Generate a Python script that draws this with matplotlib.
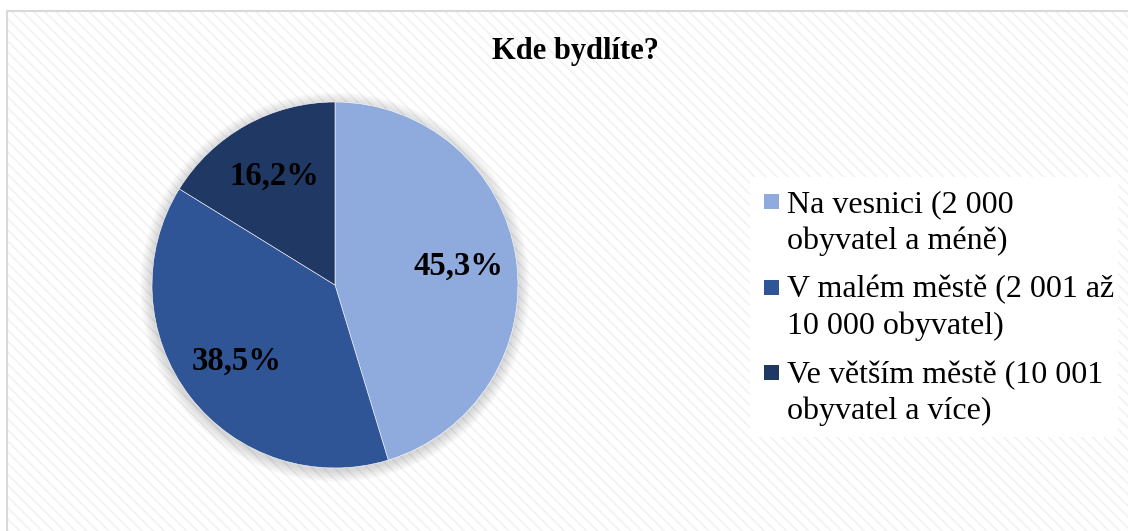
import matplotlib
matplotlib.use("Agg")
import matplotlib.pyplot as plt
from matplotlib.patches import Rectangle, Circle

# data
categories = ["Na vesnici (2 000\nobyvatel a méně)",
              "V malém městě (2 001 až\n10 000 obyvatel)",
              "Ve větším městě (10 001\nobyvatel a více)"]
shares = [45.3, 38.5, 16.2]
colors = ["#8FAADC", "#2F5597", "#203864"]
title = "Kde bydlíte?"

plt.rcParams['font.family'] = ['Liberation Serif', 'DejaVu Serif']

W, H = 1128, 531
fig = plt.figure(figsize=(W / 100, H / 100), dpi=100)
fig.patch.set_facecolor("white")

def fx(px):
    return px / W

def fy(py):
    return 1 - py / H

# chart area with faint diagonal stripes and grey border
bg = Rectangle((fx(7), -0.02), 1.1, fy(11) + 0.02, transform=fig.transFigure,
               facecolor="white", edgecolor="#f0f0f0", hatch="\\\\\\", linewidth=0, zorder=-2)
fig.patches.append(bg)
border = Rectangle((fx(7), -0.02), 1.1, fy(11) + 0.02, transform=fig.transFigure,
                   facecolor="none", edgecolor="#d9d9d9", linewidth=1.5, zorder=-1)
fig.patches.append(border)

fig.text(fx(575), fy(52), title, ha="center", va="center",
         fontsize=22, fontweight="bold")

cx, cy, r = 335, 285, 183
ax = fig.add_axes([fx(cx - r), fy(cy + r), 2 * r / W, 2 * r / H])
ax.set_axis_off()

# soft shadow behind the pie
for i in range(8):
    ax.add_patch(Circle((0.0, -0.012), 1.0 + 0.008 * (i + 1), facecolor="#000000",
                        alpha=0.02, edgecolor="none", zorder=0, clip_on=False))

wedges, texts, autotexts = ax.pie(
    shares, colors=colors, startangle=90, counterclock=False,
    autopct=lambda p: f"{p:.1f}%".replace(".", ","), pctdistance=0.68,
    wedgeprops=dict(edgecolor="white", linewidth=0.4),
    textprops=dict(fontsize=23.5, fontweight="bold", color="black"))
for w in wedges:
    w.set_zorder(2)
ax.set_xlim(-1, 1)
ax.set_ylim(-1, 1)

# legend drawn by hand so the marker sits at the first text line, as in Excel
fig.patches.append(Rectangle((fx(750), fy(437)), fx(1118 - 750), (437 - 177) / H,
                             transform=fig.transFigure, facecolor="white",
                             edgecolor="none", zorder=1))
first_base = 212
entry_step = 85.5
line_step = 36.5
for i, (cat, col) in enumerate(zip(categories, colors)):
    base = first_base + i * entry_step
    fig.patches.append(Rectangle((fx(764), fy(base - 3)), fx(15), 15 / H,
                                 transform=fig.transFigure, facecolor=col,
                                 edgecolor="none", zorder=2))
    for j, line in enumerate(cat.split("\n")):
        fig.text(fx(787), fy(base + j * line_step), line, ha="left", va="baseline",
                 fontsize=23, zorder=3)

fig.savefig("out.png", dpi=100)
